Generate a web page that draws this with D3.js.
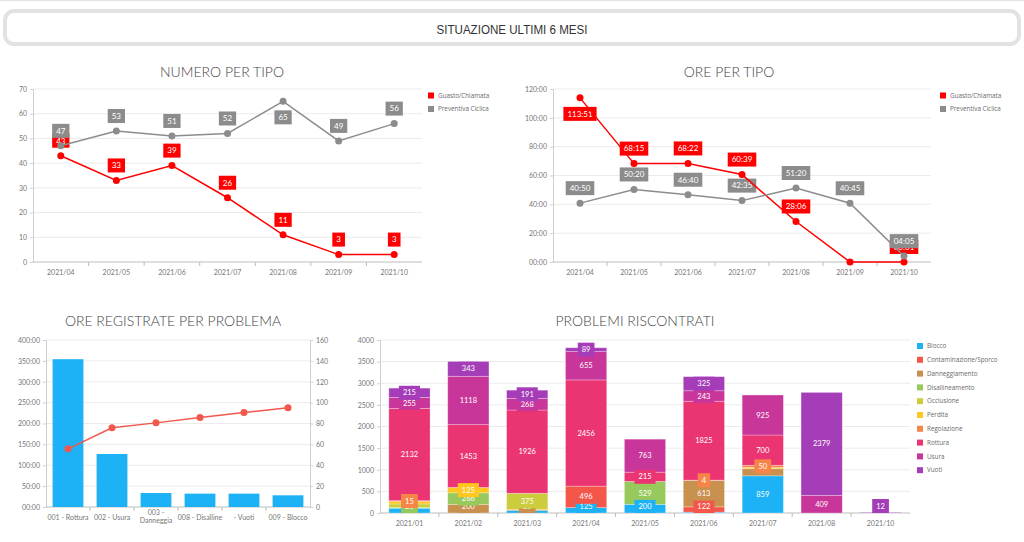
<!DOCTYPE html>
<html>
<head>
<meta charset="utf-8">
<script src="https://cdn.jsdelivr.net/npm/d3@7"></script>
<style>
  body { margin: 0; background: #fff; }
  svg { display: block; }
  text { font-family: Lato, "Open Sans", sans-serif; }
</style>
</head>
<body>
<script>
// ---- data ----
const mesi = ["2021/04", "2021/05", "2021/06", "2021/07", "2021/08", "2021/09", "2021/10"];
const tipi = ["Guasto/Chiamata", "Preventiva Ciclica"];
const numeroGuasto = [43, 33, 39, 26, 11, 3, 3];
const numeroPreventiva = [47, 53, 51, 52, 65, 49, 56];
const oreGuasto = ["113:51", "68:15", "68:22", "60:39", "28:06", "00:00", "00:01"];
const orePreventiva = ["40:50", "50:20", "46:40", "42:35", "51:20", "40:45", "04:05"];

const problemi = ["001 - Rottura", "002 - Usura", "003 - Danneggia", "008 - Disalline", "- Vuoti", "009 - Blocco"];
const oreProblema = [354, 127, 33.5, 32, 32, 28];
const percCumulata = [55.7, 75.9, 80.6, 85.8, 90.6, 95.0];

const mesiProblemi = ["2021/01", "2021/02", "2021/03", "2021/04", "2021/05", "2021/06", "2021/07", "2021/08", "2021/10"];
const categorie = ["Blocco", "Contaminazione/Sporco", "Danneggiamento", "Disallineamento", "Occlusione",
  "Perdita", "Regolazione", "Rottura", "Usura", "Vuoti"];
const blocco          = [110,    0,   55,  125, 200,   20, 859,    0,  0];
const contaminazione  = [  0,    0,    0,  496,   0,  122,   0,    0,  0];
const danneggiamento  = [  0,  200,   25,    0,   0,  613, 166,    0,  0];
const disallineamento = [ 20,  266,    0,    0, 529,    0,   0,    0,  0];
const occlusione      = [ 80,    0,  375,    0,   0,    0,   0,    0,  0];
const perdita         = [ 60,  125,    0,    0,   0,    0,  28,    0,  0];
const regolazione     = [ 15,    0,    0,    0,   0,    4,  50,    0,  0];
const rottura         = [2132, 1453, 1926, 2456, 215, 1825, 700,    0,  0];
const usura           = [255, 1118,  268,  655, 763,  243, 925,  409,  0];
const vuoti           = [215,  343,  191,   89,   0,  325,   0, 2379, 12];
// labels the chart hid because they overlapped
const etichetteNascoste = ["2021/01|Blocco", "2021/01|Occlusione", "2021/01|Perdita",
  "2021/03|Blocco", "2021/06|Blocco", "2021/07|Danneggiamento", "2021/07|Perdita"];

const coloriTipo = ["#ff0000", "#8c8c8c"];
const coloriCategorie = ["#1db2f5", "#f5564a", "#c8914f", "#97c95c", "#cccc3d",
  "#ffc720", "#f88548", "#eb3573", "#c9369a", "#a53db8"];

const W = 1024, H = 542;
const textColor = "#767676";
const gridColor = "#ebebeb";
const axisColor = "#cfcfcf";

function parseOre(s) {
  let p = s.split(":");
  return +p[0] + (+p[1]) / 60;
}
function fmtOre(v) {
  return (v < 10 ? "0" + v : "" + v) + ":00";
}

let svg = d3.select("body").append("svg")
  .attr("width", W)
  .attr("height", H);

// top thin line + header box
svg.append("line")
  .attr("x1", 0).attr("x2", W).attr("y1", 0.5).attr("y2", 0.5)
  .style("stroke", "#e4e4e4");
svg.append("rect")
  .attr("x", 5).attr("y", 11)
  .attr("width", W - 10).attr("height", 33)
  .attr("rx", 9)
  .style("fill", "#fff")
  .style("stroke", "#e2e2e2")
  .style("stroke-width", 4);
svg.append("text")
  .attr("x", 512).attr("y", 34)
  .attr("textLength", 151)
  .attr("lengthAdjust", "spacingAndGlyphs")
  .text("SITUAZIONE ULTIMI 6 MESI")
  .style("font-family", "'Liberation Sans', Arial, sans-serif")
  .style("font-size", "12.5px")
  .style("fill", "#333")
  .style("text-anchor", "middle");

function addTitle(x, y, txt) {
  svg.append("text")
    .attr("x", x).attr("y", y)
    .text(txt)
    .style("font-size", "14px")
    .style("font-weight", 300)
    .style("fill", "#444")
    .style("text-anchor", "middle");
}

function styleAxis(g) {
  g.selectAll(".domain").style("stroke", axisColor);
  g.selectAll(".tick line").style("stroke", axisColor);
  g.selectAll("text")
    .style("font-family", "Lato, sans-serif")
    .style("font-size", "7px")
    .style("fill", textColor);
}

function addLabel(g, cx, cy, txt, color, fontSize) {
  let t = g.append("text")
    .attr("x", cx).attr("y", cy)
    .attr("dy", "0.35em")
    .text(txt)
    .style("font-size", fontSize + "px")
    .style("fill", "#fff")
    .style("text-anchor", "middle");
  let w = t.node().getComputedTextLength() + 8;
  g.insert("rect", function() { return t.node(); })
    .attr("x", cx - w / 2).attr("y", cy - 7)
    .attr("width", w).attr("height", 14)
    .style("fill", color);
}

function addLegend(x, y, step, names, colors) {
  names.forEach(function(n, i) {
    svg.append("rect")
      .attr("x", x).attr("y", y + i * step - 3)
      .attr("width", 6).attr("height", 6)
      .style("fill", colors[i]);
    svg.append("text")
      .attr("x", x + 10).attr("y", y + i * step)
      .attr("dy", "0.35em")
      .text(n)
      .style("font-family", "'Open Sans', sans-serif")
      .style("font-size", "6.3px")
      .style("fill", "#6a6a6a");
  });
}

// ---- line charts (top) ----
function drawLineChart(o) {
  let x = d3.scaleBand().domain(mesi).range([o.x0, o.x1]);
  let y = d3.scaleLinear().domain([0, o.max]).range([o.yBottom, o.yTop]);
  let ticks = d3.range(0, o.max + 1, o.step);

  addTitle(o.titleX, o.titleY, o.title);

  svg.append("g").selectAll("line")
    .data(ticks.slice(1))
    .enter().append("line")
    .attr("x1", o.x0).attr("x2", o.x1)
    .attr("y1", d => y(d)).attr("y2", d => y(d))
    .style("stroke", gridColor);

  let ya = svg.append("g")
    .attr("transform", "translate(" + o.x0 + ",0)")
    .call(d3.axisLeft(y).tickValues(ticks).tickSize(3).tickPadding(3).tickFormat(o.fmt));
  styleAxis(ya);

  let xa = svg.append("g")
    .attr("transform", "translate(0," + o.yBottom + ")")
    .call(d3.axisBottom(x).tickSize(0).tickPadding(8));
  styleAxis(xa);
  xa.selectAll(".domain").remove();
  svg.append("line")
    .attr("x1", o.x0).attr("x2", o.x1)
    .attr("y1", o.yBottom).attr("y2", o.yBottom)
    .style("stroke", "#bdbdbd");
  svg.append("g").selectAll("line")
    .data(mesi.slice(1))
    .enter().append("line")
    .attr("x1", d => x(d)).attr("x2", d => x(d))
    .attr("y1", o.yBottom).attr("y2", o.yBottom + 4)
    .style("stroke", "#bdbdbd");

  let cx = d => x(d) + x.bandwidth() / 2;
  let labels = svg.append("g");

  o.series.forEach(function(s) {
    let pts = mesi.map((m, i) => ({ m: m, v: s.values[i], lab: s.labels[i] }));
    svg.append("path")
      .datum(pts)
      .attr("d", d3.line().x(d => cx(d.m)).y(d => y(d.v)))
      .style("fill", "none")
      .style("stroke", s.color)
      .style("stroke-width", 1.5);
    svg.append("g").selectAll("circle")
      .data(pts)
      .enter().append("circle")
      .attr("cx", d => cx(d.m))
      .attr("cy", d => y(d.v))
      .attr("r", 3.5)
      .style("fill", s.color);
    pts.forEach(function(d) {
      if (d.v <= 0) return;
      let ly = y(d.v) - 15;
      if (ly - 7 < o.yTop) ly = y(d.v) + 16;
      addLabel(labels, cx(d.m), ly, d.lab, s.color, 8);
    });
  });
  addLegend(o.legendX, o.legendY, 13.5, o.series.map(s => s.name), o.series.map(s => s.color));
}

drawLineChart({
  x0: 33, x1: 422, yTop: 89, yBottom: 262,
  max: 70, step: 10, fmt: d => d,
  title: "NUMERO PER TIPO", titleX: 222, titleY: 77,
  legendX: 428, legendY: 95.5,
  series: [
    { name: tipi[0], color: coloriTipo[0], values: numeroGuasto, labels: numeroGuasto },
    { name: tipi[1], color: coloriTipo[1], values: numeroPreventiva, labels: numeroPreventiva }
  ]
});

drawLineChart({
  x0: 553, x1: 931, yTop: 89, yBottom: 262,
  max: 120, step: 20, fmt: fmtOre,
  title: "ORE PER TIPO", titleX: 729, titleY: 77,
  legendX: 940, legendY: 95.5,
  series: [
    { name: tipi[0], color: coloriTipo[0], values: oreGuasto.map(parseOre), labels: oreGuasto },
    { name: tipi[1], color: coloriTipo[1], values: orePreventiva.map(parseOre), labels: orePreventiva }
  ]
});

// ---- pareto (bottom left) ----
(function() {
  let x0 = 46, x1 = 310, yTop = 340, yBottom = 507;
  let x = d3.scaleBand().domain(problemi).range([x0, x1]).paddingInner(0.3).paddingOuter(0.15);
  let xb = d3.scaleBand().domain(problemi).range([x0, x1]);
  let yL = d3.scaleLinear().domain([0, 400]).range([yBottom, yTop]);
  let yR = d3.scaleLinear().domain([0, 160]).range([yBottom, yTop]);

  addTitle(173, 326, "ORE REGISTRATE PER PROBLEMA");

  svg.append("g").selectAll("line")
    .data(d3.range(50, 401, 50))
    .enter().append("line")
    .attr("x1", x0).attr("x2", x1)
    .attr("y1", d => yL(d)).attr("y2", d => yL(d))
    .style("stroke", gridColor);

  let la = svg.append("g")
    .attr("transform", "translate(" + x0 + ",0)")
    .call(d3.axisLeft(yL).tickValues(d3.range(0, 401, 50)).tickSize(3).tickPadding(3).tickFormat(fmtOre));
  styleAxis(la);
  let ra = svg.append("g")
    .attr("transform", "translate(" + x1 + ",0)")
    .call(d3.axisRight(yR).tickValues(d3.range(0, 161, 20)).tickSize(3).tickPadding(3));
  styleAxis(ra);

  let xa = svg.append("g")
    .attr("transform", "translate(0," + yBottom + ")")
    .call(d3.axisBottom(xb).tickSize(0).tickPadding(8));
  styleAxis(xa);
  xa.selectAll(".domain").remove();
  // wrap only the longest label, as the reference does
  let lens = [];
  xa.selectAll(".tick text").each(function() { lens.push(this.getComputedTextLength()); });
  let maxLen = d3.max(lens);
  xa.selectAll(".tick text").each(function(d) {
    let t = d3.select(this);
    if (this.getComputedTextLength() >= maxLen && maxLen > xb.bandwidth()) {
      let cut = d.lastIndexOf(" ");
      t.text(null);
      t.append("tspan").attr("x", 0).attr("dy", 0).text(d.slice(0, cut));
      t.append("tspan").attr("x", 0).attr("dy", "1.1em").text(d.slice(cut + 1));
    }
  });
  svg.append("line")
    .attr("x1", x0).attr("x2", x1)
    .attr("y1", yBottom).attr("y2", yBottom)
    .style("stroke", "#bdbdbd");
  svg.append("g").selectAll("line")
    .data(problemi.slice(1))
    .enter().append("line")
    .attr("x1", d => xb(d)).attr("x2", d => xb(d))
    .attr("y1", yBottom).attr("y2", yBottom + 4)
    .style("stroke", "#bdbdbd");

  svg.append("g").selectAll("rect")
    .data(problemi)
    .enter().append("rect")
    .attr("x", d => x(d))
    .attr("y", (d, i) => yL(oreProblema[i]))
    .attr("width", x.bandwidth())
    .attr("height", (d, i) => yBottom - yL(oreProblema[i]))
    .style("fill", "#1db2f5");

  let cx = d => xb(d) + xb.bandwidth() / 2;
  svg.append("path")
    .datum(problemi)
    .attr("d", d3.line().x(d => cx(d)).y((d, i) => yR(percCumulata[i])))
    .style("fill", "none")
    .style("stroke", "#f2574c")
    .style("stroke-width", 1.5);
  svg.append("g").selectAll("circle")
    .data(problemi)
    .enter().append("circle")
    .attr("cx", d => cx(d))
    .attr("cy", (d, i) => yR(percCumulata[i]))
    .attr("r", 3.5)
    .style("fill", "#f2574c");
})();

// ---- stacked bars (bottom right) ----
(function() {
  let x0 = 380, x1 = 910, yTop = 340, yBottom = 513;
  let serie = [blocco, contaminazione, danneggiamento, disallineamento, occlusione,
    perdita, regolazione, rottura, usura, vuoti];
  let table = mesiProblemi.map(function(m, i) {
    let row = { mese: m };
    categorie.forEach((c, k) => row[c] = serie[k][i]);
    return row;
  });
  let stacked = d3.stack().keys(categorie)(table);

  let x = d3.scaleBand().domain(mesiProblemi).range([x0, x1]).paddingInner(0.3).paddingOuter(0.15);
  let xb = d3.scaleBand().domain(mesiProblemi).range([x0, x1]);
  let y = d3.scaleLinear().domain([0, 4000]).range([yBottom, yTop]);
  let color = d3.scaleOrdinal().domain(categorie).range(coloriCategorie);

  addTitle(635, 326, "PROBLEMI RISCONTRATI");

  svg.append("g").selectAll("line")
    .data(d3.range(500, 4001, 500))
    .enter().append("line")
    .attr("x1", x0).attr("x2", x1)
    .attr("y1", d => y(d)).attr("y2", d => y(d))
    .style("stroke", gridColor);

  let ya = svg.append("g")
    .attr("transform", "translate(" + x0 + ",0)")
    .call(d3.axisLeft(y).tickValues(d3.range(0, 4001, 500)).tickSize(3).tickPadding(3).tickFormat(d3.format("d")));
  styleAxis(ya);

  let xa = svg.append("g")
    .attr("transform", "translate(0," + yBottom + ")")
    .call(d3.axisBottom(xb).tickSize(0).tickPadding(8));
  styleAxis(xa);
  xa.selectAll(".domain").remove();
  svg.append("line")
    .attr("x1", x0).attr("x2", x1)
    .attr("y1", yBottom).attr("y2", yBottom)
    .style("stroke", "#bdbdbd");
  svg.append("g").selectAll("line")
    .data(mesiProblemi.slice(1))
    .enter().append("line")
    .attr("x1", d => xb(d)).attr("x2", d => xb(d))
    .attr("y1", yBottom).attr("y2", yBottom + 4)
    .style("stroke", "#bdbdbd");

  svg.append("g").selectAll("g")
    .data(stacked)
    .enter().append("g")
    .style("fill", d => color(d.key))
    .selectAll("rect")
    .data(d => d)
    .enter().append("rect")
    .filter(d => d[1] > d[0])
    .attr("x", d => x(d.data.mese))
    .attr("y", d => y(d[1]))
    .attr("width", x.bandwidth())
    .attr("height", d => y(d[0]) - y(d[1]))
    .style("stroke", "rgba(255,255,255,0.35)")
    .style("stroke-width", 0.8);

  let labels = svg.append("g");
  stacked.forEach(function(s) {
    s.forEach(function(d) {
      let v = d[1] - d[0];
      if (v <= 0) return;
      if (etichetteNascoste.indexOf(d.data.mese + "|" + s.key) >= 0) return;
      let cx = x(d.data.mese) + x.bandwidth() / 2;
      // keep the label box inside the plot
      let cy = Math.min(y((d[0] + d[1]) / 2), yBottom - 7);
      addLabel(labels, cx, cy, v, color(s.key), 7.5);
    });
  });

  addLegend(917, 346, 13.8, categorie, categorie.map(c => color(c)));
})();
</script>
</body>
</html>
